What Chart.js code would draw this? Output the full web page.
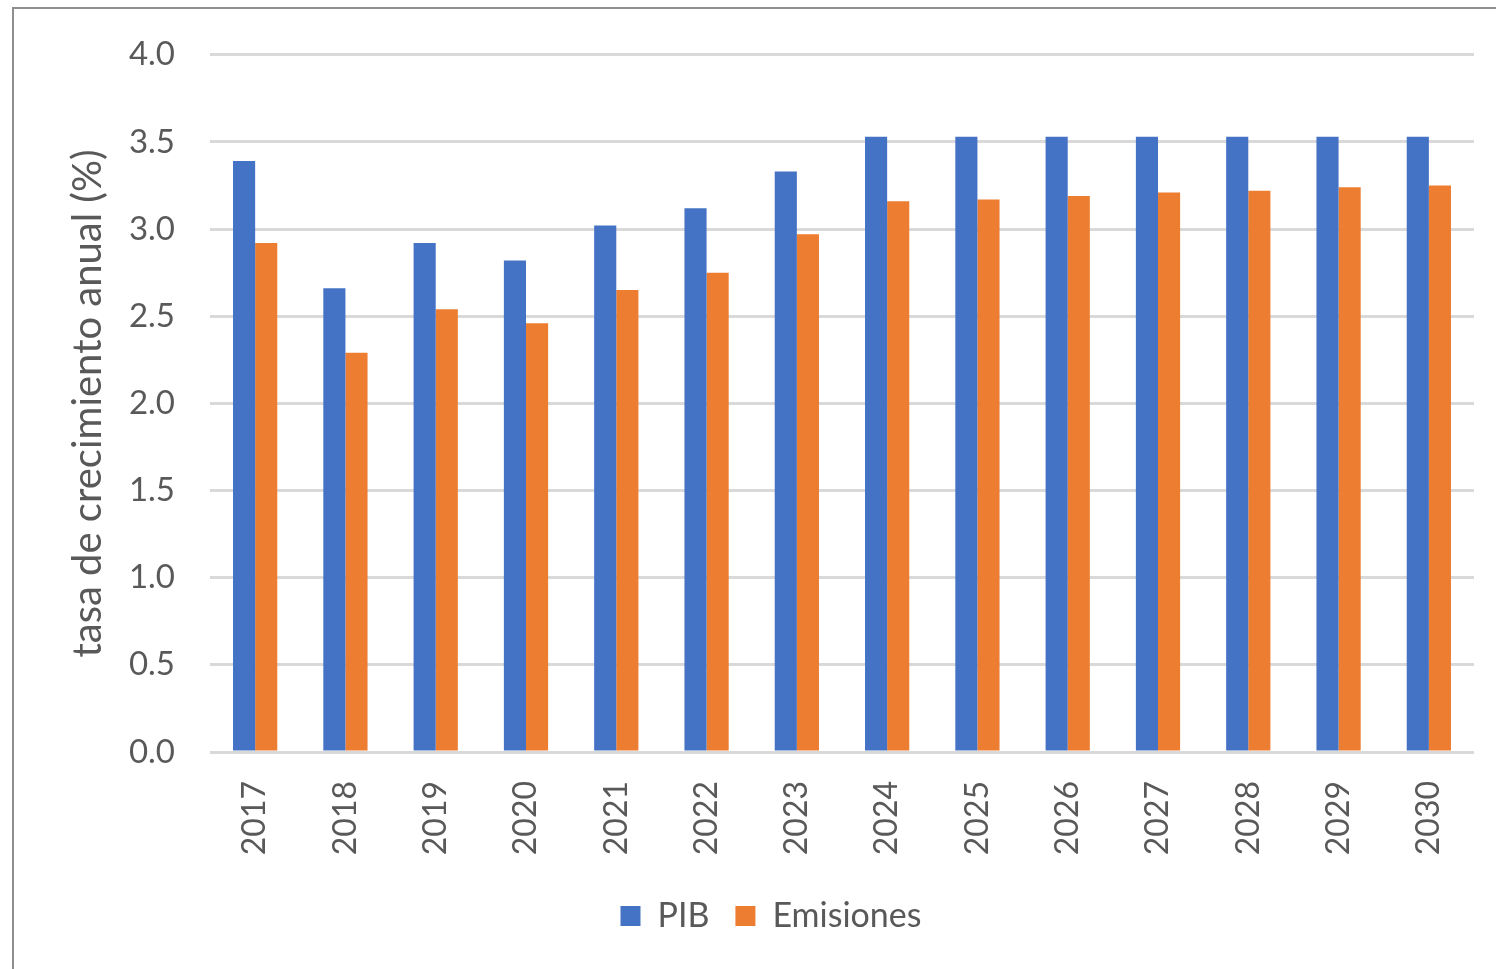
<!DOCTYPE html>
<html>
<head>
<meta charset="utf-8">
<script src="https://cdn.jsdelivr.net/npm/chart.js@4.4.1/dist/chart.umd.min.js"></script>
<style>
    html, body { margin: 0; padding: 0; background: #fff; overflow: hidden; }
    #wrap { position: relative; width: 1496px; height: 969px; }
    #frame {
        position: absolute; left: 12px; top: 7px; width: 1600px; height: 1100px;
        border-top: 2px solid #8f8f8f; border-left: 2px solid #8f8f8f;
    }
    #growthChart { position: absolute; left: 0; top: 0; }
</style>
</head>
<body>
<div id="wrap">
    <div id="frame"></div>
    <canvas id="growthChart" width="1496" height="969"></canvas>
</div>
<script>
const years = ['2017', '2018', '2019', '2020', '2021', '2022', '2023',
    '2024', '2025', '2026', '2027', '2028', '2029', '2030'];
const pib = [3.39, 2.66, 2.92, 2.82, 3.02, 3.12, 3.33, 3.53, 3.53, 3.53, 3.53, 3.53, 3.53, 3.53];
const emisiones = [2.92, 2.29, 2.54, 2.46, 2.65, 2.75, 2.97, 3.16, 3.17, 3.19, 3.21, 3.22, 3.24, 3.25];
const yTicks = [0, 0.5, 1.0, 1.5, 2.0, 2.5, 3.0, 3.5, 4.0];

const textColor = '#595959';
const fontFamily = 'Lato, "Noto Sans", sans-serif';

(function () {
    const ctx = document.getElementById('growthChart');
    if (!ctx || typeof Chart === 'undefined') {
        return;
    }

    new Chart(ctx, {
        type: 'bar',
        data: {
            labels: years,
            datasets: [
                {
                    label: 'PIB',
                    data: pib,
                    backgroundColor: '#4472c4',
                    categoryPercentage: 0.49,
                    barPercentage: 1.0,
                },
                {
                    label: 'Emisiones',
                    data: emisiones,
                    backgroundColor: '#ed7d31',
                    categoryPercentage: 0.49,
                    barPercentage: 1.0,
                },
            ],
        },
        options: {
            responsive: false,
            animation: false,
            layout: {
                padding: { left: 68, right: 22, top: 51, bottom: 26 },
            },
            scales: {
                x: {
                    grid: { display: false },
                    border: { display: false },
                    ticks: {
                        color: textColor,
                        font: { family: fontFamily, size: 32 },
                        minRotation: 90,
                        maxRotation: 90,
                        padding: 21,
                    },
                    afterFit: (scale) => { scale.height = 121; },
                },
                y: {
                    min: 0,
                    max: 4,
                    afterBuildTicks: (scale) => {
                        scale.ticks = yTicks.map((v) => ({ value: v }));
                    },
                    grid: {
                        color: '#d9d9d9',
                        lineWidth: 3,
                        drawTicks: false,
                    },
                    border: { display: false },
                    ticks: {
                        color: textColor,
                        font: { family: fontFamily, size: 33 },
                        padding: 35,
                        callback: (value) => Number(value).toFixed(1),
                    },
                    title: {
                        display: true,
                        text: 'tasa de crecimiento anual (%)',
                        color: textColor,
                        font: { family: fontFamily, size: 40, lineHeight: 1 },
                        padding: 0,
                    },
                    afterFit: (scale) => { scale.width = 142; },
                },
            },
            plugins: {
                legend: {
                    position: 'bottom',
                    labels: {
                        color: textColor,
                        font: { family: fontFamily, size: 34 },
                        boxWidth: 20,
                        boxHeight: 20,
                        padding: 26,
                    },
                },
                tooltip: { enabled: false },
            },
        },
    });
})();
</script>
</body>
</html>
